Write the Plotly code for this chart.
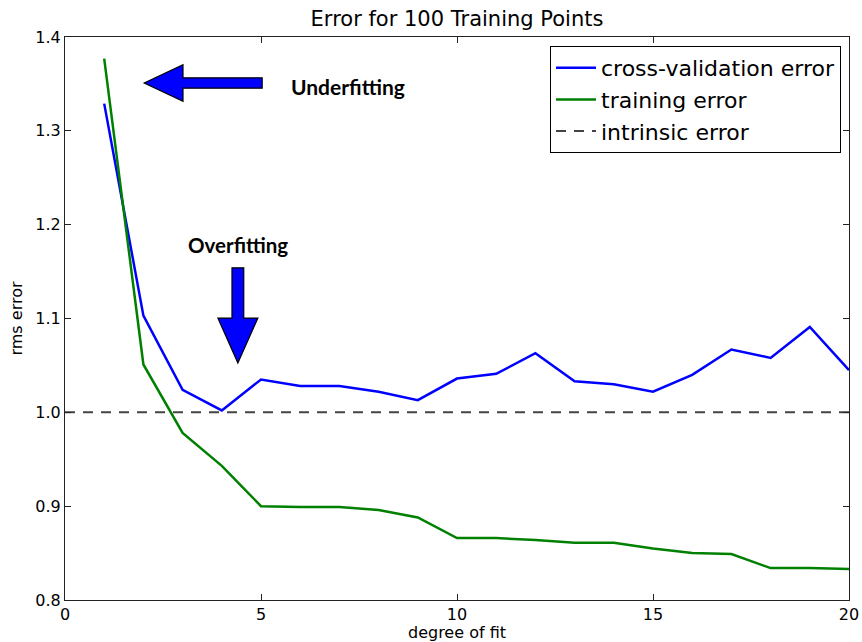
import plotly.graph_objects as go

degree = list(range(1, 21))
cv_error = [1.329, 1.103, 1.024, 1.002, 1.035, 1.028, 1.028, 1.022, 1.013, 1.036,
            1.041, 1.063, 1.033, 1.030, 1.022, 1.040, 1.067, 1.058, 1.091, 1.045]
train_error = [1.377, 1.051, 0.978, 0.943, 0.900, 0.899, 0.899, 0.896, 0.888, 0.866,
               0.866, 0.864, 0.861, 0.861, 0.855, 0.850, 0.849, 0.834, 0.834, 0.833]
intrinsic_x = [0, 20]
intrinsic_y = [1.0, 1.0]

FONT = "DejaVu Sans"

fig = go.Figure()
fig.add_trace(go.Scatter(x=degree, y=cv_error, mode="lines", name="cross-validation error",
                         line=dict(color="#0000ff", width=2.5), legendgroup="a"))
fig.add_trace(go.Scatter(x=degree, y=train_error, mode="lines", name="training error",
                         line=dict(color="#008000", width=2.5), legendgroup="b"))
fig.add_trace(go.Scatter(x=intrinsic_x, y=intrinsic_y, mode="lines", name="intrinsic error",
                         line=dict(color="#444444", width=2, dash="10px,8px"), legendgroup="c"))

# Left arrow (Underfitting)
tip_x, tip_y = 2.02, 1.351
head_x, tail_x = 3.01, 5.03
hh, sh = 0.0195, 0.0055
left_path = (f"M {tip_x},{tip_y} L {head_x},{tip_y+hh} L {head_x},{tip_y+sh} L {tail_x},{tip_y+sh} "
             f"L {tail_x},{tip_y-sh} L {head_x},{tip_y-sh} L {head_x},{tip_y-hh} Z")
# Down arrow (Overfitting)
ax_, tip2, base2, top2 = 4.41, 1.0525, 1.1005, 1.154
hw, sw = 0.51, 0.15
down_path = (f"M {ax_},{tip2} L {ax_-hw},{base2} L {ax_-sw},{base2} L {ax_-sw},{top2} "
             f"L {ax_+sw},{top2} L {ax_+sw},{base2} L {ax_+hw},{base2} Z")
for p in (left_path, down_path):
    fig.add_shape(type="path", path=p, xref="x", yref="y", fillcolor="#0000ff",
                  line=dict(color="black", width=1.2))

fig.add_annotation(x=(348 - 65) / 39.2, y=1.4 - (86 - 37) / 938, xref="x", yref="y",
                   text="<b>Underfitting</b>", showarrow=False,
                   font=dict(family="Lato", size=21, color="black"))
fig.add_annotation(x=(238 - 65) / 39.2, y=1.4 - (245 - 37) / 938, xref="x", yref="y",
                   text="<b>Overfitting</b>", showarrow=False,
                   font=dict(family="Lato", size=20.5, color="black"))

axis_common = dict(showline=True, linecolor="#222222", linewidth=1.2, mirror="ticks",
                   ticks="inside", ticklen=6, tickcolor="#222222", showgrid=False,
                   zeroline=False, automargin=False,
                   tickfont=dict(family=FONT, size=16, color="black"))

fig.update_layout(
    width=862, height=642,
    margin=dict(l=65, r=13, t=37, b=42),
    paper_bgcolor="white", plot_bgcolor="white",
    font=dict(family=FONT, color="black"),
    title=dict(text="Error for 100 Training Points", x=0.5, xref="paper", xanchor="center",
               y=1 - 19 / 642, yanchor="middle", font=dict(family=FONT, size=21, color="black")),
    xaxis=dict(range=[0, 20], tickvals=[0, 5, 10, 15, 20],
               title=dict(text="degree of fit", font=dict(family=FONT, size=16), standoff=4),
               **axis_common),
    yaxis=dict(range=[0.8, 1.4], tickvals=[0.8, 0.9, 1.0, 1.1, 1.2, 1.3, 1.4], tickformat=".1f",
               title=dict(text="rms error", font=dict(family=FONT, size=16), standoff=8),
               **axis_common),
    legend=dict(x=(841 - 65) / 784, y=(600 - 46) / 563, xanchor="right", yanchor="top",
                bordercolor="black", borderwidth=1, bgcolor="white", tracegroupgap=0,
                itemwidth=40,
                font=dict(family=FONT, size=22, color="black")),
    showlegend=True,
)

fig.write_html("out.html", config={"displayModeBar": False},
               post_script="document.body.style.margin='0';document.body.style.overflow='hidden';")
